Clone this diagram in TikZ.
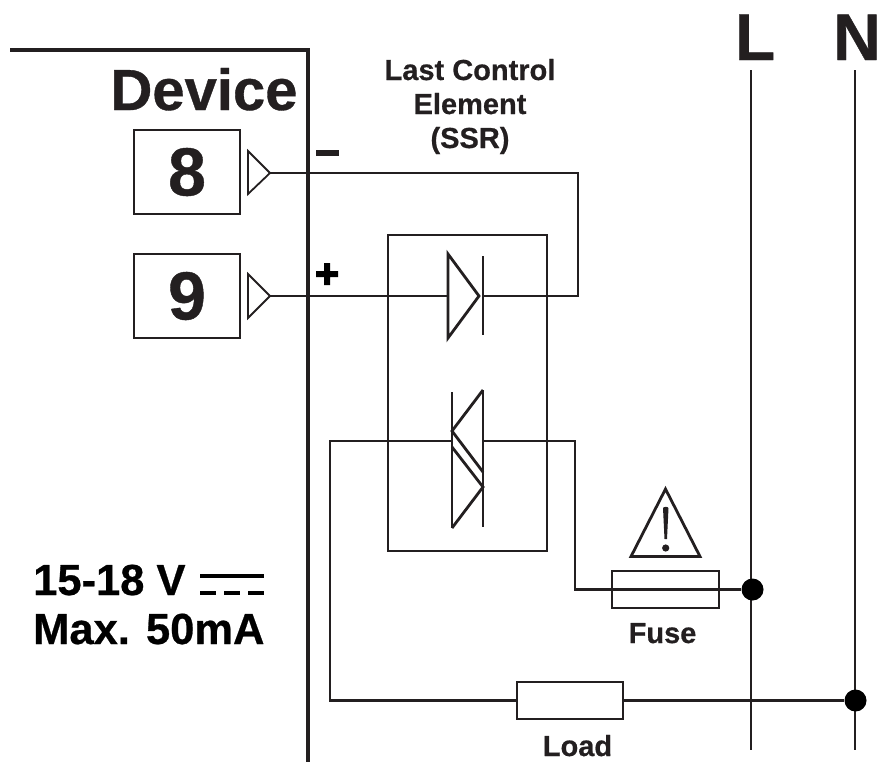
\documentclass[tikz,border=0pt]{standalone}
\usepackage{fontspec}
\setmainfont[BoldFeatures={FakeBold=0.6}]{Liberation Sans}
\definecolor{ink}{HTML}{231F20}
\newcommand{\fs}[1]{\fontsize{#1pt}{#1pt}\selectfont\bfseries}
\tikzset{
  wire/.style={draw=ink,line width=2.2pt,line join=miter},
  sym/.style={draw=ink,line width=2.8pt,line join=miter},
  frame/.style={draw=ink,line width=4pt},
  termbox/.style={draw=ink,line width=2.2pt,fill=white,minimum width=106pt,minimum height=84pt,inner sep=0pt,text=ink,font=\fs{68}},
  partbox/.style={draw=ink,line width=2.6pt,fill=none,minimum width=106pt,inner sep=0pt},
  junction/.style={circle,fill=black,minimum size=22pt,inner sep=0pt},
  lbl/.style={inner sep=0pt,text=ink},
}
\begin{document}
\begin{tikzpicture}[x=1pt,y=-1pt]
\useasboundingbox (0,0) rectangle (880,764);
% device frame
\coordinate (fa) at (10,50); \coordinate (fb) at (308,50); \coordinate (fc) at (308,762);
\draw[frame] (fa) -- (fb) -- (fc);
\node[lbl,font=\fs{58},anchor=base] (dev) at (204,110) {Device};
% terminals
\node[termbox] (t8) at (187,172) {8};
\node[termbox] (t9) at (187,296) {9};
\coordinate (a8) at (270,173); \coordinate (a9) at (270,296);
\draw[draw=ink,line width=1.8pt] (248,151) -- (a8) -- (248,194) -- cycle;
\draw[draw=ink,line width=1.8pt] (248,274) -- (a9) -- (248,318) -- cycle;
\node[lbl] (minus) at (327,153) {\rule{23pt}{6.5pt}};
\node[lbl] (plus) at (327,274) {\tikz[x=1pt,y=1pt]{\fill[black] (-11,-3) rectangle (11,3) (-3,-11) rectangle (3,11);}};
% SSR box
\node[draw=ink,line width=2.6pt,minimum width=159pt,minimum height=316pt,inner sep=0pt] (ssr) at (467.5,393) {};
\node[lbl,font=\fs{29},anchor=base] (ssr1) at (470,80) {Last Control};
\node[lbl,font=\fs{29},anchor=base] (ssr2) at (470,114) {Element};
\node[lbl,font=\fs{29},anchor=base] (ssr3) at (470,148) {(SSR)};
% diode
\coordinate (dl) at (448,296); \coordinate (dt) at (479,296); \coordinate (dr) at (483,296);
\draw[sym] (448,254) -- (dt) -- (448,338) -- cycle;
\draw[sym] (483,256) -- (483,335);
\draw[wire] (a9) -- (dl);
\draw[wire] (a8) -- (578,173) -- (578,296) -- (dr);
% triac
\coordinate (tl) at (452,441); \coordinate (tr) at (483,441);
\draw[sym] (452,392) -- (452,528);
\draw[sym] (483,390) -- (483,527);
\draw[sym] (483,390) -- (452,431) -- (483,472);
\draw[sym] (452,447) -- (483,487) -- (452,528);
% fuse and warning
\node[partbox,minimum width=107pt,minimum height=37pt] (fuse) at (665.5,589.5) {};
\node[partbox,minimum width=106pt,minimum height=37pt] (load) at (570,700.5) {};
\node[lbl,font=\fs{29},anchor=base] (fuset) at (662.5,643) {Fuse};
\node[lbl,font=\fs{29},anchor=base] (loadt) at (577.5,756) {Load};
\draw[sym] (665.5,489) -- (631,556.5) -- (700,556.5) -- cycle;
\fill[ink] (663,508) .. controls (663,506.5) and (668.5,506.5) .. (668.5,508) -- (667,539) -- (664.5,539) -- cycle;
\fill[ink] (665.7,548) circle (3.6);
% rails
\coordinate (lt) at (751,70); \coordinate (lb) at (751,750);
\coordinate (nt) at (855,70); \coordinate (nb) at (855,750);
\draw[wire] (lt) -- (lb);
\draw[wire] (nt) -- (nb);
\node[lbl,font=\fs{66},anchor=base] (L) at (755,60) {L};
\node[lbl,font=\fs{66},anchor=base] (N) at (857,60) {N};
\node[junction] (j1) at (752.5,589.5) {};
\node[junction] (j2) at (855.5,700.5) {};
% wires
\draw[wire] (tr) -- (575,441) -- (575,589.5) -- (j1);
\draw[wire] (tl) -- (330,441) -- (330,700.5) -- (load.west);
\draw[wire] (load.east) -- (j2);
% rating
\node[lbl,font=\fs{43.5},anchor=base west,text=black] (r1) at (33,595) {15-18 V};
\node[lbl,font=\fs{43.5},anchor=base west,text=black] (r2) at (33,644) {Max. 50mA};
\coordinate (da) at (200,576); \coordinate (db) at (264,576);
\coordinate (dc) at (200,593); \coordinate (dd) at (264,593);
\draw[black,line width=3.3pt] (da) -- (db);
\draw[black,line width=3.3pt,dash pattern=on 16pt off 8pt] (dc) -- (dd);
\end{tikzpicture}
\end{document}
